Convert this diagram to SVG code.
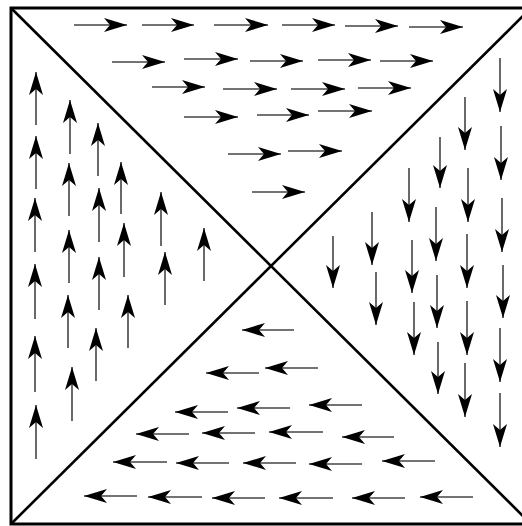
<svg xmlns="http://www.w3.org/2000/svg" width="522" height="526" viewBox="0 0 522 526">
<defs>
<marker id="ah" markerUnits="userSpaceOnUse" markerWidth="28" markerHeight="18" viewBox="-25 -9 28 18" refX="0" refY="0" orient="auto">
<path d="M0,0 L-23,-7 L-17,0 L-23,7 Z" fill="#000"/>
</marker>
<style>
.a{stroke:#444;stroke-width:1.6;fill:none;marker-end:url(#ah)}
.frame{fill:#fff;stroke:#000;stroke-width:3}
.diag{stroke:#000;stroke-width:2.6;fill:none}
</style>
</defs>
<rect width="522" height="526" fill="#fff"/>
<g id="frame">
<rect class="frame" x="11" y="8" width="520" height="516"/>
<line class="diag" x1="11" y1="8" x2="531" y2="524"/>
<line class="diag" x1="11" y1="524" x2="531" y2="8"/>
</g>
<g id="top-right-arrows">
<line class="a" x1="74" y1="25" x2="127" y2="25"/>
<line class="a" x1="142" y1="25" x2="194" y2="25"/>
<line class="a" x1="214" y1="25" x2="268" y2="25"/>
<line class="a" x1="282" y1="25" x2="335" y2="25"/>
<line class="a" x1="345" y1="26" x2="398" y2="26"/>
<line class="a" x1="409" y1="27" x2="463" y2="27"/>
<line class="a" x1="112" y1="62" x2="165" y2="62"/>
<line class="a" x1="184" y1="59" x2="238" y2="59"/>
<line class="a" x1="250" y1="61" x2="303" y2="61"/>
<line class="a" x1="318" y1="60" x2="371" y2="60"/>
<line class="a" x1="380" y1="61" x2="433" y2="61"/>
<line class="a" x1="152" y1="87" x2="205" y2="87"/>
<line class="a" x1="223" y1="89" x2="277" y2="89"/>
<line class="a" x1="291" y1="89" x2="345" y2="89"/>
<line class="a" x1="358" y1="88" x2="411" y2="88"/>
<line class="a" x1="184" y1="117" x2="238" y2="117"/>
<line class="a" x1="257" y1="115" x2="309" y2="115"/>
<line class="a" x1="318" y1="111" x2="372" y2="111"/>
<line class="a" x1="228" y1="154" x2="281" y2="154"/>
<line class="a" x1="288" y1="151" x2="342" y2="151"/>
<line class="a" x1="252" y1="192" x2="305" y2="192"/>
</g>
<g id="left-up-arrows">
<line class="a" x1="36" y1="125" x2="36" y2="72"/>
<line class="a" x1="36" y1="189" x2="36" y2="136"/>
<line class="a" x1="35" y1="252" x2="35" y2="198"/>
<line class="a" x1="35" y1="319" x2="35" y2="264"/>
<line class="a" x1="35" y1="392" x2="35" y2="336"/>
<line class="a" x1="36" y1="459" x2="36" y2="405"/>
<line class="a" x1="70" y1="154" x2="70" y2="100"/>
<line class="a" x1="69" y1="216" x2="69" y2="163"/>
<line class="a" x1="69" y1="283" x2="69" y2="230"/>
<line class="a" x1="68" y1="348" x2="68" y2="295"/>
<line class="a" x1="72" y1="421" x2="72" y2="367"/>
<line class="a" x1="98" y1="176" x2="98" y2="123"/>
<line class="a" x1="99" y1="242" x2="99" y2="188"/>
<line class="a" x1="99" y1="310" x2="99" y2="257"/>
<line class="a" x1="96" y1="381" x2="96" y2="328"/>
<line class="a" x1="121" y1="214" x2="121" y2="162"/>
<line class="a" x1="124" y1="277" x2="124" y2="223"/>
<line class="a" x1="128" y1="348" x2="128" y2="295"/>
<line class="a" x1="161" y1="246" x2="161" y2="192"/>
<line class="a" x1="165" y1="305" x2="165" y2="252"/>
<line class="a" x1="204" y1="281" x2="204" y2="228"/>
</g>
<g id="right-down-arrows">
<line class="a" x1="500" y1="58" x2="500" y2="112"/>
<line class="a" x1="501" y1="126" x2="501" y2="180"/>
<line class="a" x1="502" y1="198" x2="502" y2="252"/>
<line class="a" x1="503" y1="265" x2="503" y2="318"/>
<line class="a" x1="500" y1="328" x2="500" y2="382"/>
<line class="a" x1="500" y1="393" x2="500" y2="447"/>
<line class="a" x1="465" y1="97" x2="465" y2="150"/>
<line class="a" x1="468" y1="168" x2="468" y2="222"/>
<line class="a" x1="467" y1="234" x2="467" y2="288"/>
<line class="a" x1="467" y1="301" x2="467" y2="355"/>
<line class="a" x1="465" y1="363" x2="465" y2="417"/>
<line class="a" x1="440" y1="137" x2="440" y2="188"/>
<line class="a" x1="436" y1="207" x2="436" y2="261"/>
<line class="a" x1="437" y1="275" x2="437" y2="328"/>
<line class="a" x1="438" y1="342" x2="438" y2="394"/>
<line class="a" x1="409" y1="168" x2="409" y2="222"/>
<line class="a" x1="412" y1="240" x2="412" y2="293"/>
<line class="a" x1="414" y1="302" x2="414" y2="355"/>
<line class="a" x1="372" y1="212" x2="372" y2="265"/>
<line class="a" x1="376" y1="272" x2="376" y2="325"/>
<line class="a" x1="333" y1="236" x2="333" y2="288"/>
</g>
<g id="bottom-left-arrows">
<line class="a" x1="294" y1="330" x2="242" y2="330"/>
<line class="a" x1="259" y1="373" x2="206" y2="373"/>
<line class="a" x1="318" y1="368" x2="265" y2="368"/>
<line class="a" x1="228" y1="412" x2="175" y2="412"/>
<line class="a" x1="290" y1="408" x2="237" y2="408"/>
<line class="a" x1="362" y1="405" x2="309" y2="405"/>
<line class="a" x1="189" y1="434" x2="136" y2="434"/>
<line class="a" x1="255" y1="433" x2="202" y2="433"/>
<line class="a" x1="323" y1="432" x2="269" y2="432"/>
<line class="a" x1="394" y1="437" x2="342" y2="437"/>
<line class="a" x1="167" y1="462" x2="113" y2="462"/>
<line class="a" x1="229" y1="463" x2="176" y2="463"/>
<line class="a" x1="296" y1="463" x2="243" y2="463"/>
<line class="a" x1="362" y1="464" x2="309" y2="464"/>
<line class="a" x1="435" y1="461" x2="382" y2="461"/>
<line class="a" x1="137" y1="496" x2="84" y2="496"/>
<line class="a" x1="202" y1="497" x2="148" y2="497"/>
<line class="a" x1="265" y1="498" x2="212" y2="498"/>
<line class="a" x1="333" y1="498" x2="279" y2="498"/>
<line class="a" x1="405" y1="498" x2="352" y2="498"/>
<line class="a" x1="473" y1="497" x2="420" y2="497"/>
</g>
</svg>
